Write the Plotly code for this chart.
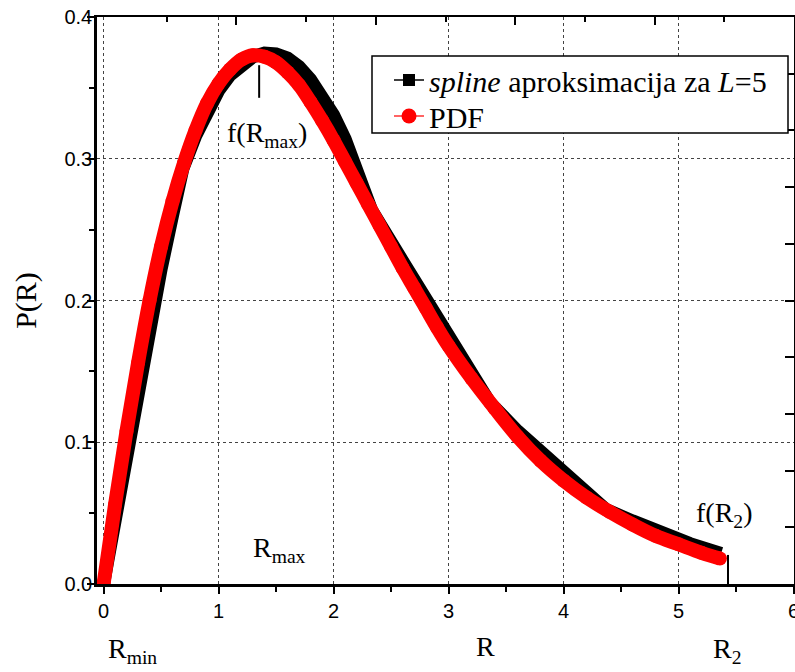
import plotly.graph_objects as go

# PDF (red) curve
pdf_r = [0.0, 0.1, 0.2, 0.3, 0.4, 0.5, 0.6, 0.7, 0.8, 0.9, 1.0, 1.1, 1.2, 1.3, 1.4, 1.5,
         1.6, 1.7, 1.8, 1.9, 2.0, 2.1, 2.2, 2.3, 2.4, 2.5, 2.6, 2.7, 2.8, 2.9, 3.0, 3.2,
         3.4, 3.6, 3.8, 4.0, 4.2, 4.4, 4.6, 4.8, 5.0, 5.2, 5.36]
pdf_p = [0.0, 0.056, 0.108, 0.156, 0.200, 0.238, 0.270, 0.297, 0.320, 0.339, 0.353, 0.363,
         0.370, 0.373, 0.372, 0.368, 0.361, 0.352, 0.340, 0.327, 0.313, 0.298, 0.283, 0.268,
         0.253, 0.238, 0.223, 0.209, 0.195, 0.181, 0.168, 0.145, 0.124, 0.104, 0.087, 0.073,
         0.061, 0.051, 0.042, 0.034, 0.028, 0.022, 0.018]

# spline approximation (black)
spl_r = [0.0, 0.1, 0.2, 0.3, 0.4, 0.5, 0.6, 0.69, 0.8, 0.9, 1.0, 1.1, 1.2, 1.3, 1.4, 1.5,
         1.6, 1.7, 1.8, 1.9, 2.0, 2.1, 2.2, 2.33, 2.6, 2.85, 3.1, 3.36, 3.6, 3.85, 4.1, 4.37,
         4.6, 4.85, 5.1, 5.37]
spl_p = [0.0, 0.047, 0.093, 0.138, 0.181, 0.222, 0.260, 0.293, 0.316, 0.334, 0.348, 0.359,
         0.367, 0.372, 0.3745, 0.374, 0.371, 0.365, 0.356, 0.345, 0.331, 0.314, 0.292, 0.264,
         0.228, 0.195, 0.161, 0.128, 0.108, 0.089, 0.070, 0.0525, 0.0445, 0.036, 0.0285, 0.0215]

x_ticks = [0, 1, 2, 3, 4, 5, 6]
y_ticks = [0.0, 0.1, 0.2, 0.3, 0.4]

r_max_mark = 1.353
r2_mark = 5.43

SERIF = "Liberation Serif, Times New Roman, serif"
SANS = "Liberation Sans, Arial, sans-serif"

fig = go.Figure()

fig.add_trace(go.Scatter(x=spl_r, y=spl_p, mode="lines",
                         line=dict(color="black", width=13),
                         showlegend=False, hoverinfo="skip"))
fig.add_trace(go.Scatter(x=pdf_r, y=pdf_p, mode="lines+markers",
                         line=dict(color="#ff0000", width=14, shape="spline"),
                         marker=dict(color="#ff0000", size=14),
                         showlegend=False, hoverinfo="skip"))

# legend entries (one legend per row, framed by a shape)
fig.add_trace(go.Scatter(x=[None], y=[None], mode="lines+markers",
                         name="<i>spline</i> aproksimacija za <i>L</i>=5", legend="legend",
                         line=dict(color="black", width=1.5),
                         marker=dict(symbol="square", size=12, color="black")))
fig.add_trace(go.Scatter(x=[None], y=[None], mode="lines+markers",
                         name="PDF", legend="legend2",
                         line=dict(color="#ff3030", width=1.5),
                         marker=dict(symbol="circle", size=15, color="#ff0000")))

# invisible trace to activate top/right mirror axes
fig.add_trace(go.Scatter(x=[None], y=[None], xaxis="x2", yaxis="y2",
                         showlegend=False, hoverinfo="skip"))

grid = dict(showgrid=True, gridcolor="#444444", gridwidth=1, griddash="dot")

L_PX, T_PX, PW, PH = 97, 17, 697, 567


def px_x(p):
    return (p - L_PX) / PW


def px_y(p):
    return (T_PX + PH - p) / PH


leg_common = dict(xanchor="left", yanchor="middle", bgcolor="rgba(0,0,0,0)", borderwidth=0,
                  font=dict(family=SERIF, size=30, color="black"))

fig.update_layout(
    width=795, height=672,
    margin=dict(l=L_PX, r=795 - L_PX - PW, t=T_PX, b=672 - T_PX - PH, autoexpand=False),
    paper_bgcolor="white", plot_bgcolor="white",
    xaxis=dict(range=[-0.057, 6.004], tickvals=x_ticks, ticktext=[str(v) for v in x_ticks],
               ticks="outside", ticklen=7, tickwidth=2, tickcolor="black", automargin=False,
               ticklabeloverflow="allow",
               minor=dict(dtick=0.5, ticks="outside", ticklen=5, tickwidth=2, tickcolor="black", showgrid=False),
               showline=True, linewidth=2.5, linecolor="black", zeroline=False,
               tickfont=dict(family=SANS, size=20, color="black"), **grid),
    yaxis=dict(range=[0, 0.4], tickvals=y_ticks, ticktext=[f"{v:.1f}" for v in y_ticks],
               ticks="outside", ticklen=7, tickwidth=2, tickcolor="black", automargin=False,
               ticklabelstandoff=-9,
               minor=dict(dtick=0.05, ticks="outside", ticklen=5, tickwidth=2, tickcolor="black", showgrid=False),
               showline=True, linewidth=2.5, linecolor="black", zeroline=False,
               tickfont=dict(family=SANS, size=20, color="black"),
               title=dict(text="P(R)", font=dict(family=SERIF, size=30, color="black"), standoff=19),
               **grid),
    xaxis2=dict(overlaying="x", side="top", range=[0, 5], dtick=1, ticks="inside",
                ticklen=8, tickwidth=2, tickcolor="black", showticklabels=False, automargin=False,
                minor=dict(dtick=0.5, ticks="inside", ticklen=5, tickwidth=2, tickcolor="black"),
                showline=True, linewidth=2, linecolor="black", showgrid=False, zeroline=False),
    yaxis2=dict(overlaying="y", side="right", range=[0, 10], dtick=1, ticks="inside",
                ticklen=9, tickwidth=2, tickcolor="black", showticklabels=False, automargin=False,
                showline=True, linewidth=2, linecolor="black", showgrid=False, zeroline=False),
    legend=dict(x=px_x(389), y=px_y(80), **leg_common),
    legend2=dict(x=px_x(389), y=px_y(116), **leg_common),
    showlegend=True,
)

# legend frame
fig.add_shape(type="rect", xref="paper", yref="paper",
              x0=px_x(372), x1=px_x(788), y0=px_y(133), y1=px_y(56),
              line=dict(color="black", width=1.5), fillcolor="white", layer="above")

# marker lines
fig.add_shape(type="line", x0=r_max_mark, x1=r_max_mark, y0=0.366, y1=0.343,
              xref="x", yref="y", line=dict(color="black", width=2), layer="above")
fig.add_shape(type="line", x0=r2_mark, x1=r2_mark, y0=0.0205, y1=0.0,
              xref="x", yref="y", line=dict(color="black", width=2), layer="above")

ann_font = dict(family=SERIF, size=28, color="black")
fig.add_annotation(x=1.42, y=0.3168, xref="x", yref="y", text="f(R<sub>max</sub>)",
                   showarrow=False, font=ann_font)
fig.add_annotation(x=1.527, y=0.024, xref="x", yref="y", text="R<sub>max</sub>",
                   showarrow=False, font=ann_font)
fig.add_annotation(x=5.395, y=0.0487, xref="x", yref="y", text="f(R<sub>2</sub>)",
                   showarrow=False, font=ann_font)
fig.add_annotation(x=0.25, y=-0.152, xref="x", yref="paper", text="R<sub>min</sub>",
                   showarrow=False, font=ann_font)
fig.add_annotation(x=3.32, y=-0.141, xref="x", yref="paper", text="R",
                   showarrow=False, font=ann_font)
fig.add_annotation(x=5.42, y=-0.152, xref="x", yref="paper", text="R<sub>2</sub>",
                   showarrow=False, font=ann_font)

fig.write_html("out.html", config={"displayModeBar": False},
               post_script="document.body.style.margin='0';document.body.style.overflow='hidden';")
